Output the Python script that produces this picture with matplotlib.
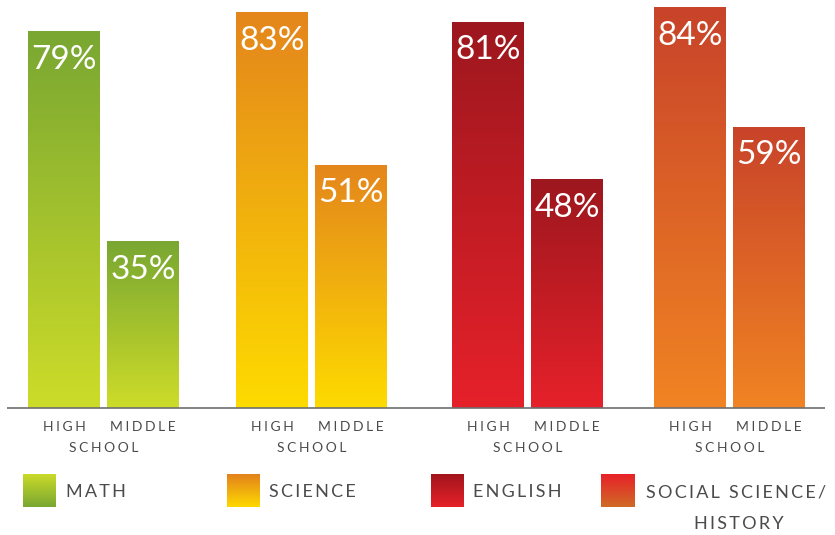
import numpy as np
import matplotlib
matplotlib.use("Agg")
import matplotlib.pyplot as plt
from matplotlib.colors import LinearSegmentedColormap

# survey results, percent of teachers per subject
subjects = ["MATH", "SCIENCE", "ENGLISH", "SOCIAL SCIENCE/"]
high_school = [79, 83, 81, 84]
middle_school = [35, 51, 48, 59]

# bar gradients (top colour, bottom colour)
bar_grad = [("#79a732", "#cddc29"), ("#e4861c", "#fedb00"),
            ("#9d171e", "#e6212a"), ("#c8432a", "#f18423")]
# legend swatches run the other way for some subjects
key_grad = [("#cddc29", "#79a732"), ("#e27f1d", "#fed900"),
            ("#a0141c", "#e6212a"), ("#e91f29", "#cf6b26")]

W, H = 835, 535
BASE = 408          # baseline, px from the top
PX_PER_PCT = 4.77
group_x = [103.5, 311.5, 527.5, 729.5]
bar_w = 72
half = 39.5
text_grey = "#4b4b4d"
font = ["Lato", "DejaVu Sans"]
PT = 0.72           # points per pixel at 100 dpi
CAT_SEP = "\u2009\u200a"


def spaced(s, sep="\u2009"):
    return sep.join(s)


def gradient(ax, top, bottom, extent, clip=None):
    cmap = LinearSegmentedColormap.from_list("g", [bottom, top])
    img = ax.imshow(np.linspace(0, 1, 256).reshape(-1, 1), cmap=cmap,
                    extent=extent, origin="lower", aspect="auto", zorder=2)
    if clip is not None:
        img.set_clip_path(clip)
    return img


fig = plt.figure(figsize=(W / 100, H / 100), dpi=100)
ax = fig.add_axes([0, (H - BASE) / H, 1, BASE / H])
ax.set_xlim(0, W)
ax.set_ylim(0, BASE / PX_PER_PCT)
ax.axis("off")

gx = np.array(group_x)
hs = ax.bar(gx - half, high_school, width=bar_w, color="none", lw=0)
ms = ax.bar(gx + half, middle_school, width=bar_w, color="none", lw=0)

cat_kw = dict(textcoords="offset points", ha="center", va="center",
              color=text_grey, fontsize=10, family=font, annotation_clip=False)
for i in range(len(subjects)):
    top, bottom = bar_grad[i]
    for patch, val in ((hs[i], high_school[i]), (ms[i], middle_school[i])):
        x0 = patch.get_x()
        gradient(ax, top, bottom, (x0, x0 + bar_w, 0, val), clip=patch)
        ax.annotate(f"{val}%", (x0 + bar_w / 2, val), xytext=(0, -28.5 * PT),
                    textcoords="offset points", ha="center", va="center",
                    color="white", fontsize=24, family=font, zorder=3)
    # category labels under each pair
    ax.annotate(spaced("HIGH", CAT_SEP), (gx[i] - half, 0),
                xytext=(0, -19 * PT), **cat_kw)
    ax.annotate(spaced("MIDDLE", CAT_SEP), (gx[i] + half, 0),
                xytext=(0, -19 * PT), **cat_kw)
    ax.annotate(spaced("SCHOOL", CAT_SEP), (gx[i], 0),
                xytext=(0, -39.5 * PT), **cat_kw)

ax.plot([7, 825], [0, 0], color="#6d6e70", lw=1.2, zorder=4, clip_on=False,
        solid_capstyle="butt")

# legend
key_x = [23, 227, 431, 601]
key_top = 474
key_size = 33
text_gap = [43, 42, 42, 45]
for i, name in enumerate(subjects):
    kax = fig.add_axes([key_x[i] / W, (H - key_top - key_size) / H,
                        key_size / W, key_size / H])
    kax.axis("off")
    gradient(kax, key_grad[i][0], key_grad[i][1], (0, 1, 0, 1))
    kax.set_xlim(0, 1)
    kax.set_ylim(0, 1)
    fig.text((key_x[i] + text_gap[i]) / W, (H - 492) / H, spaced(name),
             ha="left", va="center", color=text_grey, fontsize=13, family=font)
fig.text(739 / W, (H - 524) / H, spaced("HISTORY"), ha="center", va="center",
         color=text_grey, fontsize=13, family=font)

fig.savefig("out.png", dpi=100)
